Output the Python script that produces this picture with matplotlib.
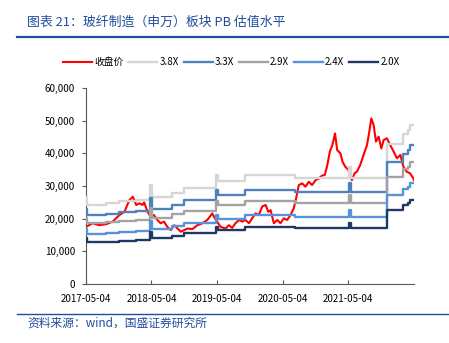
import pandas as pd
import matplotlib.pyplot as plt
import matplotlib.dates as mdates
from matplotlib.ticker import FuncFormatter

plt.rcParams['font.family'] = ['Noto Sans CJK SC', 'DejaVu Sans']

# 收盘价（点）
close_dates = [
    '2017-05-04', '2017-06-10', '2017-07-17', '2017-08-24', '2017-09-30', '2017-11-06',
    '2017-12-04', '2018-01-01', '2018-01-20', '2018-02-08', '2018-02-26', '2018-03-15',
    '2018-03-24', '2018-04-12', '2018-04-30', '2018-05-18', '2018-06-06', '2018-06-24',
    '2018-07-13', '2018-07-31', '2018-08-20', '2018-09-08', '2018-09-26', '2018-10-15',
    '2018-11-02', '2018-11-21', '2018-12-18', '2019-01-15', '2019-02-12', '2019-03-11',
    '2019-04-08', '2019-04-17', '2019-05-05', '2019-05-24', '2019-06-21', '2019-07-09',
    '2019-07-28', '2019-08-15', '2019-09-04', '2019-09-22', '2019-10-10', '2019-10-29',
    '2019-11-16', '2019-12-05', '2019-12-23', '2020-01-11', '2020-01-30', '2020-02-14',
    '2020-02-27', '2020-03-16', '2020-04-04', '2020-04-22', '2020-05-10', '2020-05-29',
    '2020-06-17', '2020-07-05', '2020-07-18', '2020-08-02', '2020-08-21', '2020-09-08',
    '2020-09-27', '2020-10-15', '2020-11-04', '2020-11-22', '2020-12-10', '2020-12-25',
    '2021-01-08', '2021-01-22', '2021-02-05', '2021-02-20', '2021-03-04', '2021-03-22',
    '2021-04-03', '2021-04-18', '2021-05-06', '2021-05-25', '2021-06-09', '2021-06-22',
    '2021-07-10', '2021-07-29', '2021-08-17', '2021-08-30', '2021-09-10', '2021-09-23',
    '2021-10-06', '2021-10-21', '2021-11-05', '2021-11-18', '2021-12-06', '2021-12-25',
    '2022-01-13', '2022-01-31', '2022-02-19', '2022-03-08', '2022-03-26', '2022-04-14',
    '2022-05-03', '2022-05-06',
]
close_vals = [
    17500, 18600, 18000, 18300, 19100, 21100,
    22100, 25700, 26700, 24200, 24700, 24200,
    25000, 22100, 20600, 21100, 19600, 18600,
    19100, 17500, 16500, 18000, 17000, 16000,
    16500, 17000, 16800, 18000, 18600, 19600,
    21600, 20600, 19100, 17500, 17000, 18000,
    17200, 18600, 19600, 19100, 19600, 18600,
    20100, 21600, 21100, 23700, 24200, 22100,
    22600, 18600, 19600, 18600, 20100, 19600,
    21100, 23200, 26200, 30300, 30800, 29800,
    31300, 30300, 31800, 32300, 33200, 33400,
    36400, 40500, 42500, 46100, 41000, 40000,
    37400, 35900, 34900, 31800, 33900, 34400,
    36400, 39500, 42500, 46600, 50700, 48700,
    43600, 45100, 41500, 44100, 44600, 42500,
    40500, 38500, 39500, 35900, 34400, 33900,
    32300, 31800,
]

# 板块每股净资产（点），按财报披露日阶梯变化
bvps_dates = [
    '2017-05-04', '2017-05-09', '2017-08-24', '2017-11-06', '2018-02-06', '2018-04-28',
    '2018-05-08', '2018-08-29', '2018-11-01', '2019-04-29', '2019-05-09', '2019-10-10',
    '2020-07-10', '2021-05-10', '2021-05-20', '2021-12-06', '2022-03-08', '2022-04-01',
    '2022-04-16', '2022-05-06',
]
bvps_vals = [
    7000, 6400, 6500, 6650, 6800, 8000,
    7000, 7350, 7750, 8750, 8300, 8750,
    8570, 9400, 8570, 11300, 12100, 12400,
    12850, 12850,
]

pb_labels = ['3.8X', '3.3X', '2.9X', '2.4X', '2.0X']
pb_multiples = [3.8, 3.3, 2.9, 2.4, 2.0]
pb_colors = ['#d6d6d6', '#4f81bd', '#a3a3a3', '#5892d8', '#1f3864']

xtick_labels = ['2017-05-04', '2018-05-04', '2019-05-04', '2020-05-04', '2021-05-04']

title_blue = '#1f4e9a'

fig = plt.figure(figsize=(4.49, 3.43), dpi=100)
ax = fig.add_axes([0.1915, 0.172, 0.7305, 0.5714])

cd = pd.to_datetime(close_dates)
bd = pd.to_datetime(bvps_dates)

ax.plot(cd, close_vals, color='#ff0000', lw=1.5, label='收盘价', zorder=2)
for lab, m, c in zip(pb_labels, pb_multiples, pb_colors):
    ax.plot(bd, [v * m for v in bvps_vals], color=c, lw=1.7,
            drawstyle='steps-post', label=lab, zorder=3)

ax.set_ylim(0, 60000)
ax.set_yticks(range(0, 60001, 10000))
ax.yaxis.set_major_formatter(FuncFormatter(lambda v, p: f'{int(v):,}'))
ax.set_xlim(cd[0], cd[-1])
ax.set_xticks(pd.to_datetime(xtick_labels))
ax.xaxis.set_major_formatter(mdates.DateFormatter('%Y-%m-%d'))

for s in ['top', 'right']:
    ax.spines[s].set_visible(False)
for s in ['left', 'bottom']:
    ax.spines[s].set_color('#595959')
    ax.spines[s].set_linewidth(0.8)
ax.tick_params(axis='y', direction='out', length=3, width=0.8, color='#595959',
               labelsize=7, pad=5)
ax.tick_params(axis='x', direction='in', length=3, width=0.8, color='#595959',
               labelsize=7, pad=7)

fig.legend(loc='center', bbox_to_anchor=(0.515, 0.819), ncol=6, frameon=False,
           fontsize=7, handlelength=3.0, handletextpad=0.2, columnspacing=0.5)

fig.text(0.06, 0.935, '图表 21：玻纤制造（申万）板块 PB 估值水平', color=title_blue,
         fontsize=9.3, va='center', ha='left')
fig.add_artist(plt.Line2D([0.038, 1.0], [0.893, 0.893], color=title_blue, lw=1.6))
fig.add_artist(plt.Line2D([0.038, 1.0], [0.085, 0.085], color=title_blue, lw=1.0))
fig.text(0.06, 0.058, '资料来源：wind，国盛证券研究所', color=title_blue,
         fontsize=8.5, va='center', ha='left')

fig.savefig('out.png', dpi=100)
